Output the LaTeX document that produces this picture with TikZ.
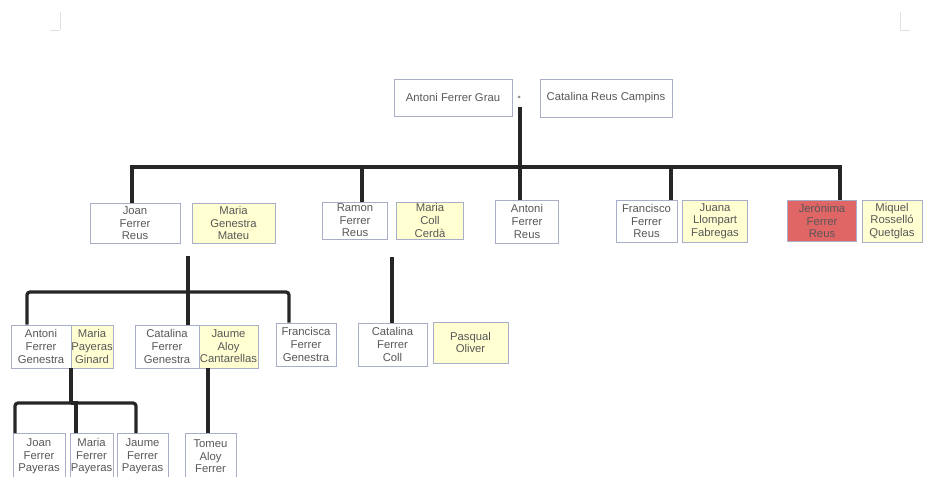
\documentclass[tikz,border=0pt]{standalone}
\usepackage{fontspec}
\setmainfont{Liberation Sans}
\definecolor{boxline}{HTML}{A8AEC8}
\definecolor{spouse}{HTML}{FFFFD2}
\definecolor{redfill}{HTML}{E06565}
\definecolor{txt}{HTML}{585858}
\begin{document}
\begin{tikzpicture}[x=1pt,y=-1pt,
  pbox/.style={draw=boxline, line width=0.8pt, fill=white, inner sep=0pt, align=center,
    text=txt, font=\fontsize{11.3}{12.6}\selectfont},
  sbox/.style={pbox, fill=spouse},
  rbox/.style={pbox, fill=redfill},
  bus/.style={draw=black!85, line width=3.2pt}]
\useasboundingbox (0,0) rectangle (925,476);
\clip (0,0) rectangle (925,476);
% faint page marks
\draw[black!12, line width=0.8pt] (60,12) -- (60,30) (50,30) -- (60,30);
\draw[black!12, line width=0.8pt] (900,12) -- (900,30) (900,30) -- (910,30);

% generation 1
\node[pbox, minimum width=118, minimum height=37] (antoniG) at (453,97.5) {Antoni Ferrer Grau};
\node[pbox, minimum width=132, minimum height=38] (catalinaR) at (606,98) {Catalina Reus Campins};
\node[circle, fill=black!45, inner sep=0pt, minimum size=3pt] (plus0) at (519,97) {};

% generation 2
\node[pbox, minimum width=90, minimum height=40] (joan) at (135,223.5) {Joan\\Ferrer\\Reus};
\node[sbox, minimum width=83, minimum height=40] (mariaG) at (233.5,223) {Maria\\Genestra\\Mateu};
\node[pbox, minimum width=65, minimum height=37] (ramon) at (355,220.5) {Ramon\\Ferrer\\Reus};
\node[sbox, minimum width=67, minimum height=37] (mariaC) at (430,220.5) {Maria\\Coll\\Cerdà};
\node[pbox, minimum width=63, minimum height=43] (antoniR) at (527,221.5) {Antoni\\Ferrer\\Reus};
\node[pbox, minimum width=61, minimum height=42] (francisco) at (646.5,221) {Francisco\\Ferrer\\Reus};
\node[sbox, minimum width=65, minimum height=42] (juana) at (715,221) {Juana\\Llompart\\Fabregas};
\node[rbox, minimum width=69, minimum height=41] (jeronima) at (822,221) {Jerònima\\Ferrer\\Reus};
\node[sbox, minimum width=60, minimum height=42] (miquel) at (892,221) {Miquel\\Rosselló\\Quetglas};

% generation 3
\node[pbox, minimum width=60, minimum height=43] (antoniGe) at (41,346.5) {Antoni\\Ferrer\\Genestra};
\node[sbox, minimum width=42, minimum height=43] (mariaP) at (92,346.5) {Maria\\Payeras\\Ginard};
\node[pbox, minimum width=64, minimum height=43] (catalinaG) at (167,346.5) {Catalina\\Ferrer\\Genestra};
\node[sbox, minimum width=59, minimum height=43] (jaume) at (228.5,346.5) {Jaume\\Aloy\\Cantarellas};
\node[pbox, minimum width=60, minimum height=43] (francisca) at (306,344.5) {Francisca\\Ferrer\\Genestra};
\node[pbox, minimum width=69, minimum height=43] (catalinaC) at (392.5,344.5) {Catalina\\Ferrer\\Coll};
\node[sbox, minimum width=75, minimum height=41] (pasqual) at (470.5,342.5) {Pasqual\\Oliver};

% generation 4
\node[pbox, minimum width=52, minimum height=46, anchor=north] (joanP) at (39,433) {Joan\\Ferrer\\Payeras};
\node[pbox, minimum width=43, minimum height=46, anchor=north] (mariaFP) at (91.5,433) {Maria\\Ferrer\\Payeras};
\node[pbox, minimum width=51, minimum height=46, anchor=north] (jaumeP) at (142.5,433) {Jaume\\Ferrer\\Payeras};
\node[pbox, minimum width=51, minimum height=46, anchor=north] (tomeu) at (210.5,433) {Tomeu\\Aloy\\Ferrer};

% connectors: generation 1 -> 2
\coordinate (m0) at (520,107);
\coordinate (b0) at (520,167);
\coordinate (b0L) at (132,167);
\coordinate (b0R) at (840,167);
\draw[bus] (m0) -- (b0);
\draw[bus, line cap=rect] (b0L) -- (b0R);
\draw[bus] (b0L) -- (b0L |- joan.north);
\draw[bus] (362,167) -- (362,0 |- ramon.north);
\draw[bus] (b0) -- (b0 |- antoniR.north);
\draw[bus] (671,167) -- (671,0 |- francisco.north);
\draw[bus] (b0R) -- (b0R |- jeronima.north);

% Joan + Maria Genestra -> children
\coordinate (m1) at (188,256);
\coordinate (b1) at (188,292);
\draw[bus] (m1) -- (b1) -- (b1 |- catalinaG.north);
\draw[bus, rounded corners=3pt] (27,0 |- antoniGe.north) -- (27,292) -- (289,292) -- (289,0 |- francisca.north);

% Ramon + Maria Coll -> child
\coordinate (m2) at (392,257);
\draw[bus] (m2) -- (m2 |- catalinaC.north);

% Antoni + Maria Payeras -> children
\coordinate (m3) at (71,0 |- antoniGe.south);
\coordinate (b3) at (71,403);
\draw[bus] (m3) -- (b3);
\draw[bus, rounded corners=3pt] (15,0 |- joanP.north) -- (15,403) -- (136,403) -- (136,0 |- jaumeP.north);
\draw[bus] (b3) -- (76,403) -- (76,0 |- mariaFP.north);

% Catalina + Jaume -> child
\coordinate (m4) at (208,0 |- jaume.south);
\draw[bus] (m4) -- (m4 |- tomeu.north);
\end{tikzpicture}
\end{document}
